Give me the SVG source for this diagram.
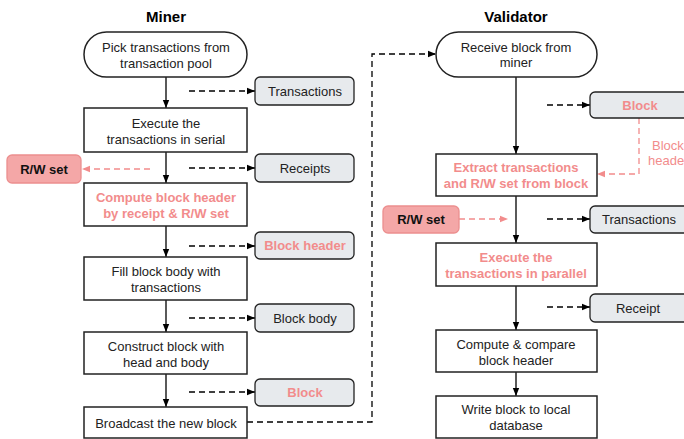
<svg xmlns="http://www.w3.org/2000/svg" width="684" height="439" viewBox="0 0 684 439">
<defs>
<marker id="ah" viewBox="0 0 10 10" refX="10" refY="5" markerWidth="8" markerHeight="8" markerUnits="userSpaceOnUse" orient="auto"><path d="M0,1 L10,5 L0,9 Z" fill="#000"/></marker>
<marker id="ahp" viewBox="0 0 10 10" refX="10" refY="5" markerWidth="8" markerHeight="8" markerUnits="userSpaceOnUse" orient="auto"><path d="M0,1 L10,5 L0,9 Z" fill="#f28c8c"/></marker>
</defs>
<style>
text{font-family:"Liberation Sans",Arial,sans-serif;font-size:13px;fill:#222;text-anchor:middle;dominant-baseline:central}
.title{font-size:15px;font-weight:bold;fill:#000}
.pk{fill:#f28c8c;font-weight:bold}
.pkr{fill:#f28c8c;text-anchor:start}
.bold{font-weight:bold;fill:#111}
.box{fill:#fff;stroke:#222;stroke-width:1.5}
.data{fill:#e7eaed;stroke:#222;stroke-width:1.3}
.rw{fill:#f4a7a7;stroke:#ec8f8f;stroke-width:1.3}
.flow{fill:none;stroke:#000;stroke-width:1.3;marker-end:url(#ah)}
.dash{fill:none;stroke:#000;stroke-width:1.3;stroke-dasharray:6,4;marker-end:url(#ah)}
.dashp{fill:none;stroke:#f28c8c;stroke-width:1.3;stroke-dasharray:6,4;marker-end:url(#ahp)}
</style>
<rect width="684" height="439" fill="#fff"/>
<text class="title" x="166" y="16">Miner</text>
<text class="title" x="516" y="16">Validator</text>

<g id="connectors">
<path class="flow" d="M166,77 V108"/>
<path class="flow" d="M166,152 V183"/>
<path class="flow" d="M166,226 V257"/>
<path class="flow" d="M166,300 V332"/>
<path class="flow" d="M166,374 V407"/>
<path class="dash" d="M189,91 H255"/>
<path class="dash" d="M189,168 H255"/>
<path class="dashp" d="M150,169 H82"/>
<path class="dash" d="M189,246 H255"/>
<path class="dash" d="M189,318 H255"/>
<path class="dash" d="M189,392 H255"/>
<path class="dash" d="M247,422 H372 V54 H436"/>
<path class="flow" d="M516,77 V154"/>
<path class="flow" d="M516,196 V243"/>
<path class="flow" d="M516,286 V330"/>
<path class="flow" d="M516,372 V396"/>
<path class="dash" d="M547,105 H590"/>
<path class="dashp" d="M639,118 V174 H597"/>
<path class="dashp" d="M459,219 H508"/>
<path class="dash" d="M547,219 H590"/>
<path class="dash" d="M547,307 H590"/>
<text class="pkr" x="652" y="145" style="font-weight:normal">Block</text>
<text class="pkr" x="648" y="160" style="font-weight:normal">header</text>
</g>

<g id="pick"><rect class="box" x="84" y="32" width="163" height="45" rx="22.5"/><text x="166" y="47">Pick transactions from</text><text x="166" y="63">transaction pool</text></g>
<g id="execute-serial"><rect class="box" x="84" y="108" width="163" height="44"/><text x="166" y="123">Execute the</text><text x="166" y="139">transactions in serial</text></g>
<g id="compute-header"><rect class="box" x="84" y="183" width="163" height="43"/><text class="pk" x="166" y="197">Compute block header</text><text class="pk" x="166" y="213">by receipt &amp; R/W set</text></g>
<g id="fill-body"><rect class="box" x="84" y="257" width="163" height="43"/><text x="166" y="271">Fill block body with</text><text x="166" y="287">transactions</text></g>
<g id="construct"><rect class="box" x="84" y="332" width="163" height="42"/><text x="166" y="346">Construct block with</text><text x="166" y="362">head and body</text></g>
<g id="broadcast"><rect class="box" x="84" y="407" width="163" height="31"/><text x="166" y="423">Broadcast the new block</text></g>

<g id="m-transactions"><rect class="data" x="255" y="77" width="99" height="28" rx="5"/><text x="305" y="91">Transactions</text></g>
<g id="m-receipts"><rect class="data" x="255" y="154" width="99" height="28" rx="5"/><text x="305" y="168">Receipts</text></g>
<g id="m-rwset"><rect class="rw" x="7" y="155" width="74" height="28" rx="5"/><text class="bold" x="44" y="169">R/W set</text></g>
<g id="m-header"><rect class="data" x="255" y="232" width="99" height="27" rx="5"/><text class="pk" x="305" y="245">Block header</text></g>
<g id="m-body"><rect class="data" x="255" y="304" width="99" height="28" rx="5"/><text x="305" y="318">Block body</text></g>
<g id="m-block"><rect class="data" x="255" y="379" width="99" height="27" rx="5"/><text class="pk" x="305" y="392">Block</text></g>

<g id="receive"><rect class="box" x="436" y="32" width="161" height="45" rx="22.5"/><text x="516" y="47">Receive block from</text><text x="516" y="62">miner</text></g>
<g id="extract"><rect class="box" x="436" y="154" width="161" height="42"/><text class="pk" x="516" y="167">Extract transactions</text><text class="pk" x="516" y="183">and R/W set from block</text></g>
<g id="execute-parallel"><rect class="box" x="436" y="243" width="161" height="43"/><text class="pk" x="516" y="257">Execute the</text><text class="pk" x="516" y="273">transactions in parallel</text></g>
<g id="compare"><rect class="box" x="436" y="330" width="161" height="42"/><text x="516" y="344">Compute &amp; compare</text><text x="516" y="360">block header</text></g>
<g id="write"><rect class="box" x="436" y="396" width="161" height="42"/><text x="516" y="409">Write block to local</text><text x="516" y="425">database</text></g>

<g id="v-block"><rect class="data" x="590" y="92" width="99" height="26" rx="5"/><text class="pk" x="640" y="105">Block</text></g>
<g id="v-rwset"><rect class="rw" x="383" y="206" width="76" height="27" rx="5"/><text class="bold" x="421" y="219">R/W set</text></g>
<g id="v-transactions"><rect class="data" x="590" y="206" width="99" height="27" rx="5"/><text x="639" y="219">Transactions</text></g>
<g id="v-receipt"><rect class="data" x="590" y="294" width="99" height="28" rx="5"/><text x="638" y="308">Receipt</text></g>
</svg>
